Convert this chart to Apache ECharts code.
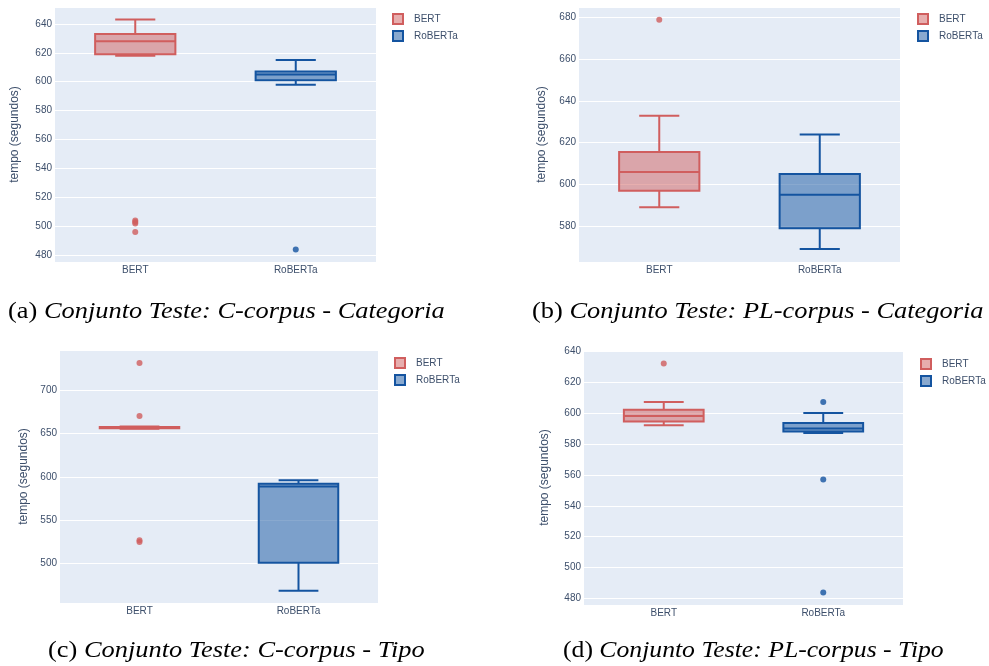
<!DOCTYPE html>
<html>
<head>
<meta charset="utf-8">
<script src="https://cdn.jsdelivr.net/npm/echarts@6/dist/echarts.min.js"></script>
<style>
  html, body { margin: 0; padding: 0; background: #ffffff; }
  #chart { width: 989px; height: 666px; }
</style>
</head>
<body>
<div id="chart"></div>
<script>
// ---- Data ----
const categories = ['BERT', 'RoBERTa'];

// [lowerWhisker, Q1, median, Q3, upperWhisker]
const boxA_BERT    = [618, 619, 628, 633, 643];
const boxA_RoBERTa = [598, 601, 605, 607, 615];
const outA_BERT    = [504, 503, 502, 496];
const outA_RoBERTa = [484];

const boxB_BERT    = [589, 597, 606, 615.5, 633];
const boxB_RoBERTa = [569, 579, 595, 605, 624];
const outB_BERT    = [679];
const outB_RoBERTa = [];

const boxC_BERT    = [655.5, 656, 657, 657.5, 658];
const boxC_RoBERTa = [469, 501, 589, 592, 596];
const outC_BERT    = [731, 670, 527, 525];
const outC_RoBERTa = [];

const boxD_BERT    = [592, 594.5, 598, 602, 607];
const boxD_RoBERTa = [587, 588, 590, 593.5, 600];
const outD_BERT    = [632];
const outD_RoBERTa = [607, 557, 484];

const captions = [
  ['(a) ', 'Conjunto Teste: C-corpus - Categoria'],
  ['(b) ', 'Conjunto Teste: PL-corpus - Categoria'],
  ['(c) ', 'Conjunto Teste: C-corpus - Tipo'],
  ['(d) ', 'Conjunto Teste: PL-corpus - Tipo']
];
const yTitle = 'tempo (segundos)';

// ---- Styling ----
const SANS = 'Liberation Sans';
const SERIF = 'Liberation Serif';
const RED = 'rgb(208,94,94)';
const RED_FILL = 'rgba(208,94,94,0.5)';
const BLUE = 'rgb(20,84,160)';
const BLUE_FILL = 'rgba(20,84,160,0.5)';
const PLOT_BG = '#E5ECF6';
const TICK_COLOR = '#3d4f6b';

const panels = [
  { grid: {left: 55, top: 7, width: 321, height: 255}, y: {min: 475.3, max: 651.7, split: 8}, nameGap: 34,
    legend: {left: 392, top: 13}, boxes: [boxA_BERT, boxA_RoBERTa], outs: [outA_BERT, outA_RoBERTa] },
  { grid: {left: 579, top: 7, width: 321, height: 255}, y: {min: 562.8, max: 685.1, split: 6}, nameGap: 31,
    legend: {left: 917, top: 13}, boxes: [boxB_BERT, boxB_RoBERTa], outs: [outB_BERT, outB_RoBERTa] },
  { grid: {left: 60, top: 350, width: 318, height: 253}, y: {min: 454.8, max: 746, split: 5}, nameGap: 30,
    legend: {left: 394, top: 357}, boxes: [boxC_BERT, boxC_RoBERTa], outs: [outC_BERT, outC_RoBERTa] },
  { grid: {left: 584, top: 350, width: 319, height: 255}, y: {min: 475.9, max: 640.65, split: 8}, nameGap: 33,
    legend: {left: 920, top: 358}, boxes: [boxD_BERT, boxD_RoBERTa], outs: [outD_BERT, outD_RoBERTa] }
];

function renderBox(params, api) {
  const c = api.value(0);
  const lo = api.coord([c, api.value(1)]);
  const q1 = api.coord([c, api.value(2)]);
  const md = api.coord([c, api.value(3)]);
  const q3 = api.coord([c, api.value(4)]);
  const hi = api.coord([c, api.value(5)]);
  const band = api.size([1, 0])[0];
  const w = band * 0.5;
  const x = lo[0];
  const isRed = params.seriesName === 'BERT';
  const stroke = isRed ? RED : BLUE;
  const fill = isRed ? RED_FILL : BLUE_FILL;
  const ls = { stroke: stroke, lineWidth: 2, fill: null };
  return {
    type: 'group',
    children: [
      { type: 'line', shape: {x1: x, y1: q3[1], x2: x, y2: hi[1]}, style: ls },
      { type: 'line', shape: {x1: x, y1: q1[1], x2: x, y2: lo[1]}, style: ls },
      { type: 'line', shape: {x1: x - w / 4, y1: hi[1], x2: x + w / 4, y2: hi[1]}, style: ls },
      { type: 'line', shape: {x1: x - w / 4, y1: lo[1], x2: x + w / 4, y2: lo[1]}, style: ls },
      { type: 'rect', shape: {x: x - w / 2, y: q3[1], width: w, height: q1[1] - q3[1]},
        style: { fill: fill, stroke: stroke, lineWidth: 2 } },
      { type: 'line', shape: {x1: x - w / 2, y1: md[1], x2: x + w / 2, y2: md[1]}, style: ls }
    ]
  };
}

const option = {
  animation: false,
  backgroundColor: '#ffffff',
  textStyle: { fontFamily: SANS },
  grid: [], xAxis: [], yAxis: [], legend: [], series: [], graphic: []
};

const capPos = [
  {x: 8, y: 312, s: 1.1}, {x: 532, y: 312, s: 1.1},
  {x: 48, y: 651, s: 1.1}, {x: 563, y: 651, s: 1.07}
];
captions.forEach((cp, i) => {
  option.graphic.push({
    type: 'text', x: capPos[i].x, y: capPos[i].y, scaleX: capPos[i].s, scaleY: 1, silent: true,
    style: {
      text: '{n|' + cp[0] + '}{i|' + cp[1] + '}',
      verticalAlign: 'middle', align: 'left',
      rich: {
        n: { fontFamily: SERIF, fontSize: 24, fill: '#000', fontStyle: 'normal', fontWeight: 'normal' },
        i: { fontFamily: SERIF, fontSize: 24, fill: '#000', fontStyle: 'italic', fontWeight: 'normal' }
      }
    }
  });
});

panels.forEach((p, i) => {
  option.grid.push(Object.assign({ show: true, backgroundColor: PLOT_BG, borderWidth: 0, containLabel: false }, p.grid));
  option.xAxis.push({
    type: 'category', gridIndex: i, data: categories,
    axisLine: { show: false }, axisTick: { show: false },
    axisLabel: { color: TICK_COLOR, fontSize: 10, margin: 3, fontFamily: SANS },
    splitLine: { show: false }
  });
  option.yAxis.push({
    type: 'value', gridIndex: i, min: p.y.min, max: p.y.max, splitNumber: p.y.split,
    axisLine: { show: false }, axisTick: { show: false },
    axisLabel: { color: TICK_COLOR, fontSize: 10, margin: 3, fontFamily: SANS,
                 showMinLabel: false, showMaxLabel: false },
    splitLine: { show: true, lineStyle: { color: '#ffffff', width: 1 } },
    name: yTitle, nameLocation: 'middle', nameGap: p.nameGap, nameRotate: 90,
    nameTextStyle: { color: TICK_COLOR, fontSize: 12, fontFamily: SANS }
  });
  option.legend.push({
    orient: 'vertical', left: p.legend.left, top: p.legend.top, padding: 0,
    itemWidth: 10, itemHeight: 10, itemGap: 5,
    textStyle: { color: TICK_COLOR, fontSize: 10, fontFamily: SANS, padding: [0, 0, 0, 6] },
    selectedMode: false,
    data: [
      { name: 'BERT', icon: 'rect', itemStyle: { color: RED_FILL, borderColor: RED, borderWidth: 2 } },
      { name: 'RoBERTa', icon: 'rect', itemStyle: { color: BLUE_FILL, borderColor: BLUE, borderWidth: 2 } }
    ]
  });
  ['BERT', 'RoBERTa'].forEach((name, k) => {
    option.series.push({
      type: 'custom', name: name, xAxisIndex: i, yAxisIndex: i,
      renderItem: renderBox,
      itemStyle: { color: k === 0 ? RED_FILL : BLUE_FILL },
      encode: { x: 0, y: [1, 2, 3, 4, 5] },
      data: [[k].concat(p.boxes[k])],
      z: 2
    });
    option.series.push({
      type: 'scatter', name: name, xAxisIndex: i, yAxisIndex: i,
      symbol: 'circle', symbolSize: 6,
      itemStyle: { color: k === 0 ? RED : BLUE },
      data: p.outs[k].map(v => [k, v]),
      z: 3
    });
  });
});

const chart = echarts.init(document.getElementById('chart'), null, { renderer: 'canvas' });
chart.setOption(option);
</script>
</body>
</html>
